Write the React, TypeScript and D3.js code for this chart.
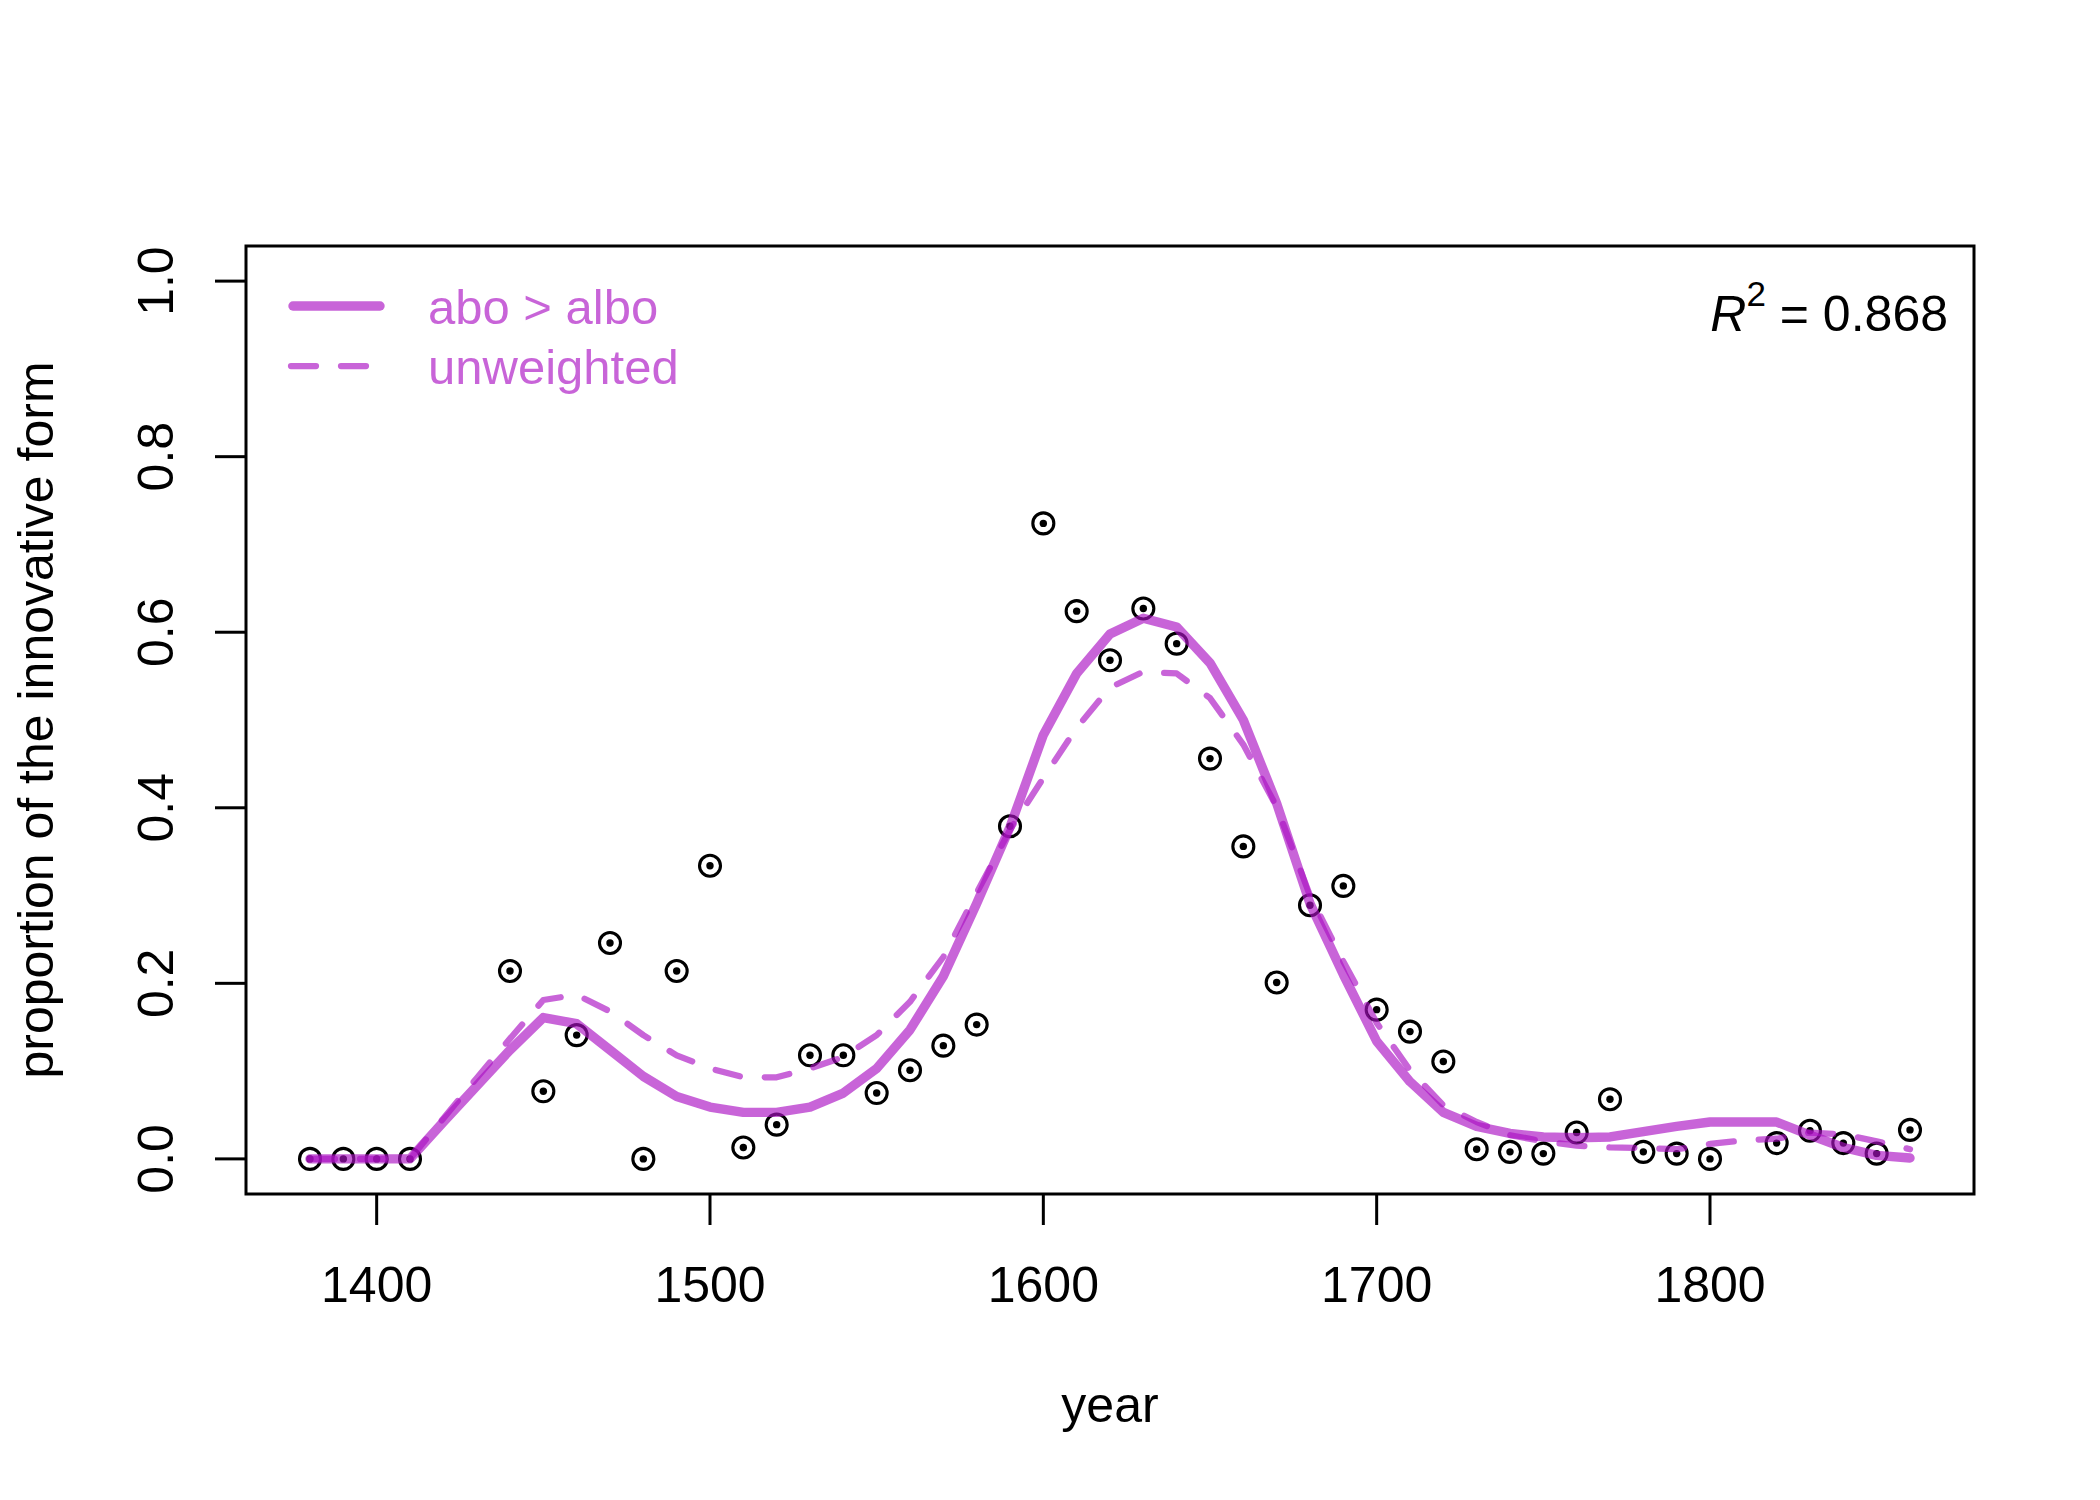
import * as d3 from "d3";

const W = 2100;
const H = 1500;
const M = { left: 246, right: 126, top: 246, bottom: 306 };

const FONT = "'Liberation Sans', Arial, Helvetica, sans-serif";
const PURPLE = "rgb(170,17,195)";
const ALPHA = 0.65;

// observed proportions (one point per decade; 1420, 1430, 1810 have no data)
const pointYears = [
  1380, 1390, 1400, 1410, 1440, 1450, 1460, 1470, 1480, 1490, 1500, 1510, 1520, 1530, 1540,
  1550, 1560, 1570, 1580, 1590, 1600, 1610, 1620, 1630, 1640, 1650, 1660, 1670, 1680, 1690,
  1700, 1710, 1720, 1730, 1740, 1750, 1760, 1770, 1780, 1790, 1800, 1820, 1830, 1840, 1850, 1860,
];
const pointProps = [
  0, 0, 0, 0, 0.214, 0.077, 0.141, 0.246, 0, 0.214, 0.334, 0.013, 0.039, 0.118, 0.118,
  0.075, 0.101, 0.129, 0.153, 0.379, 0.724, 0.624, 0.568, 0.627, 0.587, 0.456, 0.356, 0.201, 0.289, 0.311,
  0.17, 0.145, 0.111, 0.011, 0.008, 0.006, 0.03, 0.068, 0.008, 0.006, 0.0, 0.018, 0.032, 0.018, 0.006, 0.033,
];

// fitted curves, evaluated every decade
const fitYears = d3.range(1380, 1861, 10);
const weightedFit = [
  0, 0, 0, 0, 0.042, 0.083, 0.124, 0.161, 0.154, 0.124, 0.094, 0.071, 0.059, 0.053, 0.053,
  0.059, 0.075, 0.103, 0.147, 0.208, 0.291, 0.378, 0.483, 0.553, 0.598, 0.616, 0.606, 0.565, 0.5, 0.405,
  0.291, 0.21, 0.134, 0.088, 0.053, 0.037, 0.029, 0.025, 0.024, 0.025, 0.031, 0.037, 0.042, 0.042, 0.042,
  0.027, 0.013, 0.004, 0.001,
];
const unweightedFit = [
  0, 0, 0, 0, 0.046, 0.092, 0.137, 0.181, 0.187, 0.168, 0.141, 0.118, 0.103, 0.093, 0.093,
  0.103, 0.116, 0.141, 0.179, 0.23, 0.303, 0.375, 0.434, 0.491, 0.537, 0.555, 0.553, 0.525, 0.472, 0.401,
  0.3, 0.225, 0.155, 0.101, 0.061, 0.042, 0.027, 0.02, 0.015, 0.013, 0.0125, 0.011, 0.017, 0.021, 0.023,
  0.03, 0.028, 0.02, 0.011,
];

const xTicks = [1400, 1500, 1600, 1700, 1800];
const yTicks = [0, 0.2, 0.4, 0.6, 0.8, 1.0];
const legendLabels = ["abo > albo", "unweighted"];

export default function App() {
  const x0 = 1380 - 480 * 0.04;
  const x1 = 1860 + 480 * 0.04;
  const x = d3.scaleLinear().domain([x0, x1]).range([M.left, W - M.right]);
  const y = d3.scaleLinear().domain([-0.04, 1.04]).range([H - M.bottom, M.top]);

  const mkLine = d3
    .line<number>()
    .x((_, i) => x(fitYears[i]))
    .y((v) => y(v));

  const plotBottom = H - M.bottom;
  const plotRight = W - M.right;
  const midX = (M.left + plotRight) / 2;
  const midY = (M.top + plotBottom) / 2;

  return (
    <svg
      width={W}
      height={H}
      viewBox={`0 0 ${W} ${H}`}
      style={{ position: "absolute", left: 0, top: 0, background: "#fff" }}
      fontFamily={FONT}
    >
      <rect x={0} y={0} width={W} height={H} fill="#fff" />

      {/* points: open circle with a dot */}
      {pointYears.map((yr, i) => (
        <g key={yr}>
          <circle cx={x(yr)} cy={y(pointProps[i])} r={10.5} fill="none" stroke="#000" strokeWidth={3.1} />
          <circle cx={x(yr)} cy={y(pointProps[i])} r={3.7} fill="#000" />
        </g>
      ))}

      {/* fitted curves */}
      <path
        d={mkLine(weightedFit) ?? ""}
        fill="none"
        stroke={PURPLE}
        strokeOpacity={ALPHA}
        strokeWidth={9.4}
        strokeLinecap="round"
        strokeLinejoin="round"
      />
      <path
        d={mkLine(unweightedFit) ?? ""}
        fill="none"
        stroke={PURPLE}
        strokeOpacity={ALPHA}
        strokeWidth={6.25}
        strokeDasharray="25 25"
        strokeLinecap="round"
        strokeLinejoin="round"
      />

      {/* box */}
      <rect
        x={M.left}
        y={M.top}
        width={plotRight - M.left}
        height={plotBottom - M.top}
        fill="none"
        stroke="#000"
        strokeWidth={3}
      />

      {/* x axis */}
      {xTicks.map((t) => (
        <g key={t}>
          <line x1={x(t)} x2={x(t)} y1={plotBottom} y2={plotBottom + 31} stroke="#000" strokeWidth={3} />
          <text x={x(t)} y={1302} fontSize={50} textAnchor="middle">
            {t}
          </text>
        </g>
      ))}
      <text x={midX} y={1422} fontSize={50} textAnchor="middle">
        year
      </text>

      {/* y axis */}
      {yTicks.map((t) => (
        <g key={t}>
          <line x1={M.left - 31} x2={M.left} y1={y(t)} y2={y(t)} stroke="#000" strokeWidth={3} />
          <text
            transform={`translate(173,${y(t)}) rotate(-90)`}
            fontSize={50}
            textAnchor="middle"
          >
            {t.toFixed(1)}
          </text>
        </g>
      ))}
      <text transform={`translate(53,${midY}) rotate(-90)`} fontSize={50} textAnchor="middle">
        proportion of the innovative form
      </text>

      {/* legend */}
      <line
        x1={293}
        x2={380}
        y1={306}
        y2={306}
        stroke={PURPLE}
        strokeOpacity={ALPHA}
        strokeWidth={9.4}
        strokeLinecap="round"
      />
      <line
        x1={291}
        x2={380}
        y1={366}
        y2={366}
        stroke={PURPLE}
        strokeOpacity={ALPHA}
        strokeWidth={6.25}
        strokeDasharray="25 25"
        strokeLinecap="round"
      />
      {legendLabels.map((lab, i) => (
        <text key={lab} x={428} y={324 + i * 60} fontSize={49} fill={PURPLE} fillOpacity={ALPHA}>
          {lab}
        </text>
      ))}

      {/* R squared */}
      <text x={1948} y={331} fontSize={50} textAnchor="end">
        <tspan fontStyle="italic">R</tspan>
        <tspan fontSize={35} dy={-25}>
          2
        </tspan>
        <tspan dy={25}> = 0.868</tspan>
      </text>
    </svg>
  );
}
